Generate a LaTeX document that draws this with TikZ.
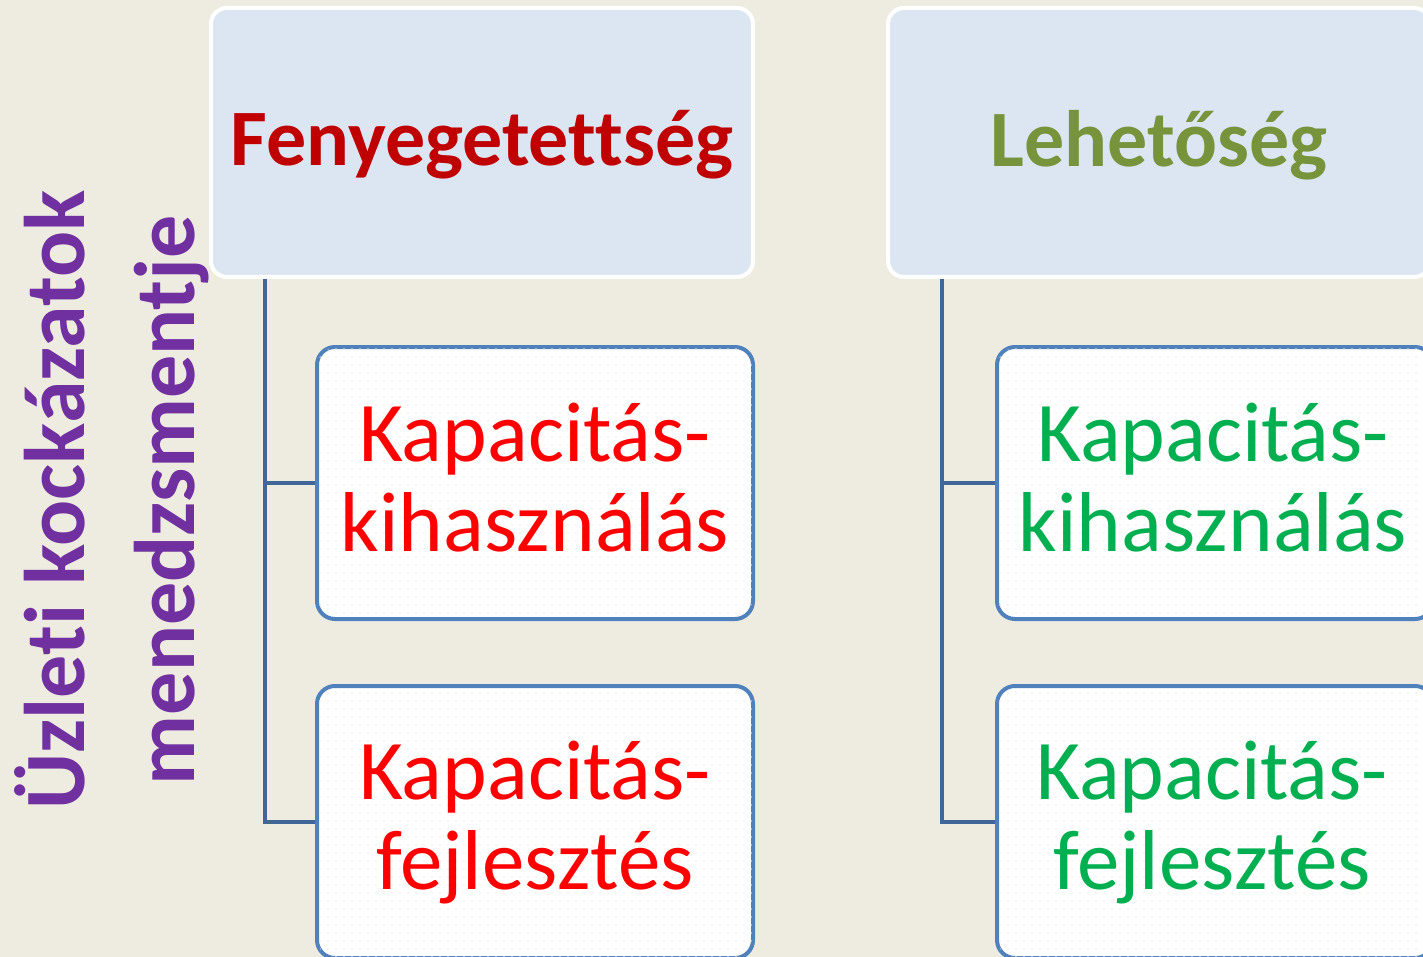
\documentclass[tikz,border=0pt]{standalone}
\usepackage{fontspec}
\setmainfont[Ligatures={NoCommon}]{Carlito}
\usetikzlibrary{patterns.meta,calc}
\definecolor{bg}{HTML}{EEECE1}
\definecolor{topfill}{HTML}{DCE6F2}
\definecolor{childborder}{HTML}{4F81BD}
\definecolor{conn}{HTML}{41679A}
\definecolor{darkred}{HTML}{C00000}
\definecolor{olive}{HTML}{77933C}
\definecolor{brightred}{HTML}{FF0000}
\definecolor{brightgreen}{HTML}{00B050}
\definecolor{purple}{HTML}{7030A0}
\begin{document}
\begin{tikzpicture}[x=1pt,y=-1pt,
  topbox/.style={draw=white, line width=4pt, fill=topfill, rounded corners=16pt,
    minimum width=542pt, minimum height=269pt, inner sep=0pt},
  childbox/.style={draw=childborder, line width=4pt, fill=white, rounded corners=18pt,
    minimum width=436pt, minimum height=272pt, inner sep=0pt, align=center,
    font=\fontsize{85}{90}\selectfont},
  dotfill/.style={pattern={Dots[radius=0.9pt, distance=8pt]}, pattern color=bg},
  connline/.style={draw=conn, line width=4.5pt},
  toptext/.style={font=\fontsize{80}{90}\selectfont\bfseries}
]
\useasboundingbox (0,0) rectangle (1423,957);
\clip (0,0) rectangle (1423,957);
\fill[bg] (0,0) rectangle (1423,957);

% side title
\node[rotate=90, text=purple, align=center, font=\fontsize{86}{110}\selectfont\bfseries] (side) at (112,500) {Üzleti kockázatok\\menedzsmentje};

% top boxes
\node[topbox] (t1) at (482,142.5) {};
\node[toptext, text=darkred] (t1txt) at (482,145) {Fenyegetettség};
\node[topbox] (t2) at (1159,142.5) {};
\node[toptext, text=olive] (t2txt) at (1159,145) {Lehetőség};

% child boxes
\node[childbox] (c1) at (535,483) {};
\node[childbox] (c2) at (535,822) {};
\node[childbox] (c3) at (1215,483) {};
\node[childbox] (c4) at (1215,822) {};
\foreach \n in {c1,c2,c3,c4}{
  \fill[dotfill, rounded corners=16pt] ($(\n.south west)+(3,-3)$) rectangle ($(\n.north east)+(-3,3)$);
}
\node[childbox, fill=none, draw=none, text=brightred] (c1t) at (535,478) {Kapacitás-\\kihasználás};
\node[childbox, fill=none, draw=none, text=brightred] (c2t) at (535,823) {Kapacitás-\\fejlesztés};
\node[childbox, fill=none, draw=none, text=brightgreen] (c3t) at (1213,478) {Kapacitás-\\kihasználás};
\node[childbox, fill=none, draw=none, text=brightgreen] (c4t) at (1212,823) {Kapacitás-\\fejlesztés};

% connectors
\coordinate (v1) at (265,279);
\coordinate (v2) at (942,279);
\draw[connline] (v1) |- (c2.west);
\draw[connline] (v1 |- c1.west) -- (c1.west);
\draw[connline] (v2) |- (c4.west);
\draw[connline] (v2 |- c3.west) -- (c3.west);
\end{tikzpicture}
\end{document}
